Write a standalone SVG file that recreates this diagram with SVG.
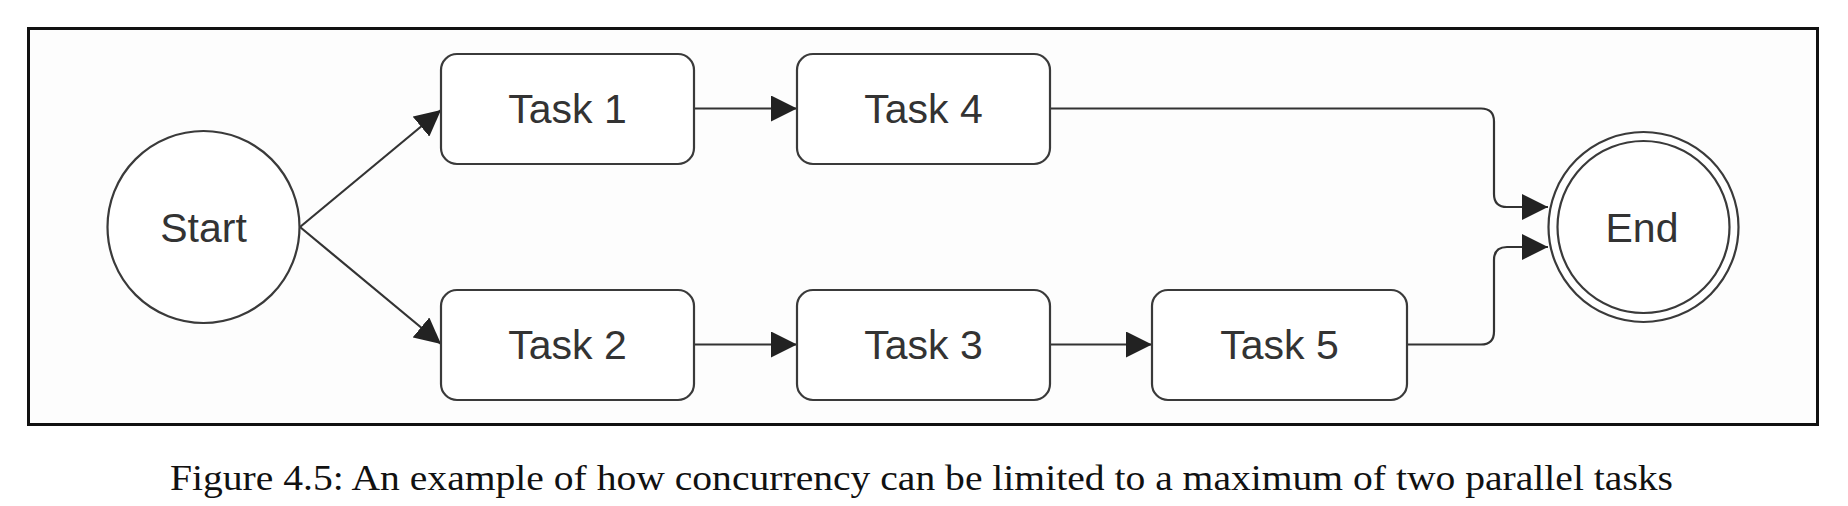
<svg xmlns="http://www.w3.org/2000/svg" width="1848" height="506" viewBox="0 0 1848 506">
  <style>
    .node { fill: #ffffff; stroke: #3a3a3a; stroke-width: 2.2; }
    .label { font-family: "Liberation Sans", Arial, sans-serif; font-size: 41px; fill: #333333; text-anchor: middle; }
    .edge { fill: none; stroke: #333333; stroke-width: 2.2; }
    .caption { font-family: "Liberation Serif", "Times New Roman", serif; font-size: 35px; fill: #111111; text-anchor: middle; }
  </style>
  <defs>
    <marker id="arrow" viewBox="0 0 26 26" refX="26" refY="13" markerWidth="26" markerHeight="26" markerUnits="userSpaceOnUse" orient="auto">
      <path d="M0,0 L26,13 L0,26 Z" fill="#222222"/>
    </marker>
  </defs>
  <rect x="0" y="0" width="1848" height="506" fill="#ffffff"/>
  <rect id="frame" x="28.5" y="28.5" width="1789" height="396" fill="#fdfdfd" stroke="#111111" stroke-width="3"/>

  <g id="connectors">
    <path class="edge" d="M300,227 L441,110" marker-end="url(#arrow)"/>
    <path class="edge" d="M300,227 L441,344" marker-end="url(#arrow)"/>
    <path class="edge" d="M694,108.5 H797" marker-end="url(#arrow)"/>
    <path class="edge" d="M694,344.5 H797" marker-end="url(#arrow)"/>
    <path class="edge" d="M1050,344.5 H1152" marker-end="url(#arrow)"/>
    <path class="edge" d="M1050,108.5 H1481 Q1494,108.5 1494,121.5 V194 Q1494,207 1507,207 H1548" marker-end="url(#arrow)"/>
    <path class="edge" d="M1407,344.5 H1481 Q1494,344.5 1494,331.5 V260 Q1494,247 1507,247 H1548" marker-end="url(#arrow)"/>
  </g>

  <g id="start">
    <circle class="node" cx="203.5" cy="227" r="96"/>
    <text class="label" x="203.5" y="242">Start</text>
  </g>
  <g id="task1">
    <rect class="node" x="441" y="54" width="253" height="110" rx="16" ry="16"/>
    <text class="label" x="567.5" y="123">Task 1</text>
  </g>
  <g id="task4">
    <rect class="node" x="797" y="54" width="253" height="110" rx="16" ry="16"/>
    <text class="label" x="923.5" y="123">Task 4</text>
  </g>
  <g id="task2">
    <rect class="node" x="441" y="290" width="253" height="110" rx="16" ry="16"/>
    <text class="label" x="567.5" y="359">Task 2</text>
  </g>
  <g id="task3">
    <rect class="node" x="797" y="290" width="253" height="110" rx="16" ry="16"/>
    <text class="label" x="923.5" y="359">Task 3</text>
  </g>
  <g id="task5">
    <rect class="node" x="1152" y="290" width="255" height="110" rx="16" ry="16"/>
    <text class="label" x="1279.5" y="359">Task 5</text>
  </g>
  <g id="end">
    <circle class="node" cx="1643.5" cy="227" r="95"/>
    <circle class="node" cx="1643.5" cy="227" r="86" fill="none"/>
    <text class="label" x="1642" y="242">End</text>
  </g>

  <text id="caption" class="caption" x="921.5" y="490" textLength="1503" lengthAdjust="spacingAndGlyphs">Figure 4.5: An example of how concurrency can be limited to a maximum of two parallel tasks</text>
</svg>
